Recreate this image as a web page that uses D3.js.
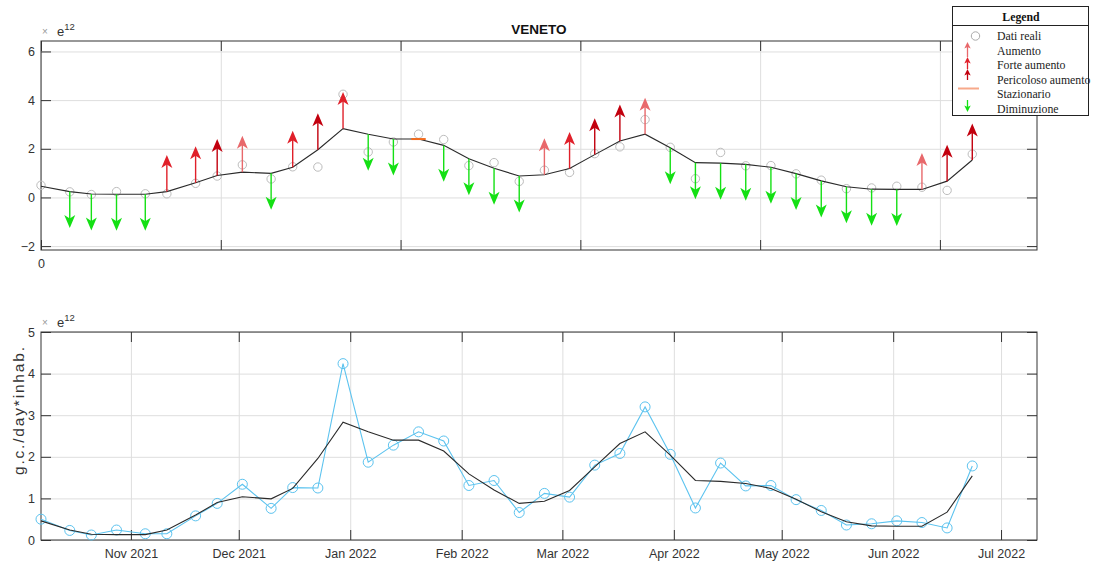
<!DOCTYPE html>
<html>
<head>
<meta charset="utf-8">
<script src="https://cdn.jsdelivr.net/npm/d3@7"></script>
<style>
	body { margin: 0; background: #fff; }
	svg { display: block; font-family: "Liberation Sans", Arial, sans-serif; }
	.axis path { display: none; }
	.axis line { stroke: #333; }
	.axis text { fill: #333; font-size: 12.5px; }
	.grid path { display: none; }
	.grid line { stroke: #dedede; }
	.grid text { display: none; }
</style>
</head>
<body>
<svg id="chart" width="1096" height="568"></svg>
<script>
//1. the data (values in e12 g.c./day*inhab.)
const sampleDates = [
	"2021-10-07", "2021-10-15", "2021-10-21", "2021-10-28", "2021-11-05", "2021-11-11",
	"2021-11-19", "2021-11-25", "2021-12-02", "2021-12-10", "2021-12-16", "2021-12-23",
	"2021-12-30", "2022-01-06", "2022-01-13", "2022-01-20", "2022-01-27", "2022-02-03",
	"2022-02-10", "2022-02-17", "2022-02-24", "2022-03-03", "2022-03-10", "2022-03-17",
	"2022-03-24", "2022-03-31", "2022-04-07", "2022-04-14", "2022-04-21", "2022-04-28",
	"2022-05-05", "2022-05-12", "2022-05-19", "2022-05-26", "2022-06-02", "2022-06-09",
	"2022-06-16", "2022-06-23"
];
const realValues = [
	0.50, 0.23, 0.12, 0.24, 0.15, 0.15, 0.58, 0.88, 1.34, 0.76, 1.26, 1.25,
	4.24, 1.87, 2.28, 2.60, 2.38, 1.31, 1.43, 0.66, 1.12, 1.03, 1.80, 2.08,
	3.20, 2.06, 0.77, 1.85, 1.30, 1.31, 0.97, 0.71, 0.36, 0.39, 0.46, 0.42,
	0.29, 1.78
];
const trendValues = [
	0.46, 0.24, 0.14, 0.13, 0.13, 0.24, 0.60, 0.90, 1.04, 0.99, 1.24, 1.96,
	2.83, 2.60, 2.40, 2.40, 2.14, 1.59, 1.20, 0.88, 0.93, 1.19, 1.76, 2.32,
	2.60, 2.04, 1.43, 1.41, 1.36, 1.24, 0.98, 0.68, 0.44, 0.34, 0.33, 0.33,
	0.67, 1.54
];
// A = Aumento, F = Forte aumento, P = Pericoloso aumento, S = Stazionario, D = Diminuzione
const trendClass = [
	"", "D", "D", "D", "D", "F", "F", "P", "A", "D", "F", "P",
	"F", "D", "D", "S", "D", "D", "D", "D", "A", "F", "P", "P",
	"A", "D", "D", "D", "D", "D", "D", "D", "D", "D", "D", "A",
	"P", "P"
];
const arrowLength = 1.5;
const topXTicks = [0, 50, 100, 150, 200, 250];
const topYTicks = [-2, 0, 2, 4, 6];
const bottomYTicks = [0, 1, 2, 3, 4, 5];
const legendLabels = ["Dati reali", "Aumento", "Forte aumento", "Pericoloso aumento", " Stazionario", "Diminuzione"];

const classColor = {
	"A": "#e8686b",
	"F": "#e0202a",
	"P": "#c2000e",
	"S": "#f26b1d",
	"D": "#14e014"
};

const parseDay = d3.utcParse("%Y-%m-%d");
const points = sampleDates.map(function (d, i) {
	return { date: parseDay(d), real: realValues[i], trend: trendValues[i], cls: trendClass[i] };
});

//2. layout
const left = 41, right = 1037;
const topPanel = { top: 41, bottom: 250 };
const botPanel = { top: 332, bottom: 540 };

const svg = d3.select("#chart");
svg.append("rect").attr("width", 1096).attr("height", 568).attr("fill", "#fff");

const xTime = d3.scaleUtc()
	.domain([parseDay("2021-10-07"), parseDay("2022-07-11")])
	.range([left, right]);
// top panel uses day numbers on its axis
const xDays = d3.scaleLinear().domain([0, 277]).range([left, right]);

const yTop = d3.scaleLinear().domain([-2.16, 6.43]).range([topPanel.bottom, topPanel.top]);
const yBot = d3.scaleLinear().domain([0, 5]).range([botPanel.bottom, botPanel.top]);

// draw grid + box + ticks for a panel
function drawFrame(panel, xScale, xTicks, xFormat, yScale, yTicks) {
	const w = right - left, h = panel.bottom - panel.top;

	svg.append("g").attr("class", "grid")
		.attr("transform", "translate(0," + panel.bottom + ")")
		.call(d3.axisBottom(xScale).tickValues(xTicks).tickSize(-h));
	svg.append("g").attr("class", "grid")
		.attr("transform", "translate(" + left + ",0)")
		.call(d3.axisLeft(yScale).tickValues(yTicks).tickSize(-w));

	svg.append("rect")
		.attr("x", left).attr("y", panel.top)
		.attr("width", w).attr("height", h)
		.attr("fill", "none").attr("stroke", "#333").attr("stroke-width", 1);

	svg.append("g").attr("class", "axis")
		.attr("transform", "translate(0," + panel.bottom + ")")
		.call(d3.axisBottom(xScale).tickValues(xTicks).tickSize(-10).tickPadding(9).tickFormat(xFormat));
	svg.append("g").attr("class", "axis")
		.attr("transform", "translate(0," + panel.top + ")")
		.call(d3.axisTop(xScale).tickValues(xTicks).tickSize(-10).tickFormat(""));
	svg.append("g").attr("class", "axis")
		.attr("transform", "translate(" + left + ",0)")
		.call(d3.axisLeft(yScale).tickValues(yTicks).tickSize(-10).tickPadding(6).tickFormat(d3.format("d")));
	svg.append("g").attr("class", "axis")
		.attr("transform", "translate(" + right + ",0)")
		.call(d3.axisRight(yScale).tickValues(yTicks).tickSize(-10).tickFormat(""));
}

// exponent label "x e12"
function drawExponent(yBase) {
	svg.append("text").attr("x", 45).attr("y", yBase - 1)
		.attr("text-anchor", "middle").attr("fill", "#999").attr("font-size", 10).text("\u00d7");
	const t = svg.append("text").attr("x", 57).attr("y", yBase)
		.attr("fill", "#333").attr("font-size", 13);
	t.append("tspan").text("e");
	t.append("tspan").attr("dy", -6).attr("font-size", 9.5).text("12");
}

// arrow head path, dir -1 = up, 1 = down
function arrowHead(x, tipY, dir, len, half, notch) {
	return "M" + x + "," + tipY +
		"L" + (x - half) + "," + (tipY - dir * len) +
		"L" + x + "," + (tipY - dir * (len - notch)) +
		"L" + (x + half) + "," + (tipY - dir * len) + "Z";
}

//3. top panel
drawFrame(topPanel, xDays, topXTicks, function (d) { return d === 0 ? "0" : ""; }, yTop, topYTicks);
drawExponent(36);

svg.append("text")
	.attr("x", (left + right) / 2).attr("y", 34)
	.attr("text-anchor", "middle").attr("font-weight", "bold").attr("font-size", 13.5)
	.attr("fill", "#111").text("VENETO");

const topG = svg.append("g");

topG.selectAll("circle.real")
	.data(points).join("circle")
	.attr("class", "real")
	.attr("cx", d => xTime(d.date)).attr("cy", d => yTop(d.real))
	.attr("r", 4.2).attr("fill", "none").attr("stroke", "#bcbcbc").attr("stroke-width", 1);

topG.append("path")
	.datum(points)
	.attr("fill", "none").attr("stroke", "#2a2a2a").attr("stroke-width", 1.1)
	.attr("d", d3.line().x(d => xTime(d.date)).y(d => yTop(d.trend)));

const arrows = points.filter(d => d.cls !== "" && d.cls !== "S");
const arrowG = topG.selectAll("g.arrow").data(arrows).join("g").attr("class", "arrow");
arrowG.append("line")
	.attr("x1", d => xTime(d.date)).attr("x2", d => xTime(d.date))
	.attr("y1", d => yTop(d.trend))
	.attr("y2", d => yTop(d.cls === "D" ? d.trend - arrowLength + 0.2 : d.trend + arrowLength - 0.2))
	.attr("stroke", d => classColor[d.cls]).attr("stroke-width", 1.4);
arrowG.append("path")
	.attr("d", function (d) {
		const dir = d.cls === "D" ? 1 : -1;
		const tip = yTop(d.cls === "D" ? d.trend - arrowLength : d.trend + arrowLength);
		return arrowHead(xTime(d.date), tip, dir, 13, 5.5, 3.5);
	})
	.attr("fill", d => classColor[d.cls]);

const steady = points.filter(d => d.cls === "S");
topG.selectAll("line.steady").data(steady).join("line")
	.attr("class", "steady")
	.attr("x1", d => xTime(d3.utcDay.offset(d.date, -2))).attr("x2", d => xTime(d3.utcDay.offset(d.date, 2)))
	.attr("y1", d => yTop(d.trend)).attr("y2", d => yTop(d.trend))
	.attr("stroke", classColor.S).attr("stroke-width", 2);

//4. bottom panel
const monthTicks = d3.utcMonth.range(parseDay("2021-10-08"), parseDay("2022-07-11"));
drawFrame(botPanel, xTime, monthTicks, d3.utcFormat("%b %Y"), yBot, bottomYTicks);
drawExponent(327);

svg.append("text")
	.attr("transform", "translate(24,411) rotate(-90)")
	.attr("text-anchor", "middle").attr("font-size", 15.5).attr("fill", "#333")
	.attr("textLength", 128).attr("lengthAdjust", "spacing")
	.text("g.c./day*inhab.");

const botG = svg.append("g");
botG.append("path")
	.datum(points)
	.attr("fill", "none").attr("stroke", "#5cc3ef").attr("stroke-width", 1.1)
	.attr("d", d3.line().x(d => xTime(d.date)).y(d => yBot(d.real)));
botG.selectAll("circle")
	.data(points).join("circle")
	.attr("cx", d => xTime(d.date)).attr("cy", d => yBot(d.real))
	.attr("r", 5).attr("fill", "none").attr("stroke", "#5cc3ef").attr("stroke-width", 1);
botG.append("path")
	.datum(points)
	.attr("fill", "none").attr("stroke", "#2a2a2a").attr("stroke-width", 1.1)
	.attr("d", d3.line().x(d => xTime(d.date)).y(d => yBot(d.trend)));

//5. legend
const leg = svg.append("g").attr("font-family", "'Liberation Serif', 'Times New Roman', serif");
leg.append("rect").attr("x", 952.5).attr("y", 6.5).attr("width", 136).attr("height", 109)
	.attr("fill", "#fff").attr("stroke", "#222").attr("stroke-width", 1);
leg.append("line").attr("x1", 952.5).attr("x2", 1088.5).attr("y1", 25.5).attr("y2", 25.5)
	.attr("stroke", "#222");
leg.append("text").attr("x", 1021).attr("y", 21).attr("text-anchor", "middle")
	.attr("font-weight", "bold").attr("font-size", 11.8).attr("fill", "#111").text("Legend");

const rowY = [36, 50.5, 65, 79.5, 94, 108.5];
leg.selectAll("text.item").data(legendLabels).join("text")
	.attr("class", "item")
	.attr("x", 997).attr("y", (d, i) => rowY[i] + 4)
	.attr("font-size", 11.8).attr("fill", "#222").text(d => d);

leg.append("circle").attr("cx", 975.5).attr("cy", 36).attr("r", 4.2)
	.attr("fill", "none").attr("stroke", "#aaa");
// stacked red arrows
const legArrows = [["A", 42, 57], ["F", 57, 69], ["P", 69, 80]];
legArrows.forEach(function (a) {
	leg.append("line").attr("x1", 967.5).attr("x2", 967.5).attr("y1", a[2]).attr("y2", a[1] + 3)
		.attr("stroke", classColor[a[0]]).attr("stroke-width", 1.3);
	leg.append("path").attr("d", arrowHead(967.5, a[1], -1, 6.5, 3.2, 1.5)).attr("fill", classColor[a[0]]);
});
leg.append("line").attr("x1", 958).attr("x2", 979).attr("y1", 88.5).attr("y2", 88.5)
	.attr("stroke", "#f7a98a").attr("stroke-width", 2);
leg.append("line").attr("x1", 967.5).attr("x2", 967.5).attr("y1", 100).attr("y2", 109)
	.attr("stroke", classColor.D).attr("stroke-width", 1.3);
leg.append("path").attr("d", arrowHead(967.5, 112, 1, 6.5, 3.2, 1.5)).attr("fill", classColor.D);
</script>
</body>
</html>
